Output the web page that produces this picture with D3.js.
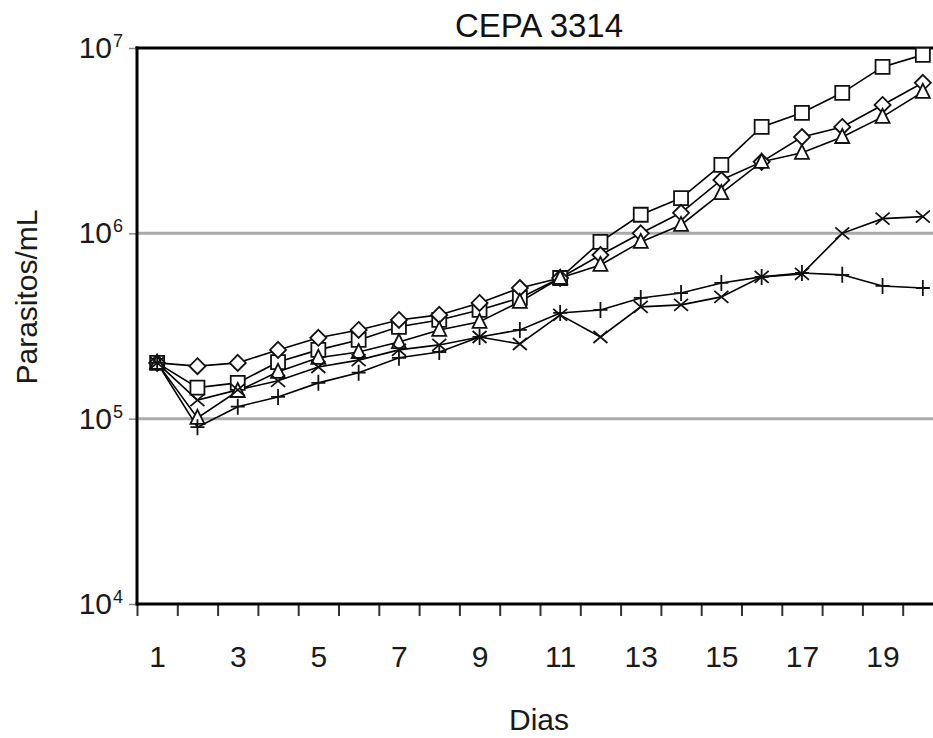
<!DOCTYPE html>
<html>
<head>
<meta charset="utf-8">
<script src="https://cdn.jsdelivr.net/npm/d3@7/dist/d3.min.js"></script>
<style>
  html, body { margin: 0; padding: 0; background: #fff; }
  svg { display: block; font-family: "Liberation Sans", Arial, sans-serif; }
</style>
</head>
<body>
<svg id="chart" width="933" height="738"></svg>
<script>
// Days of culture
const days = [1, 2, 3, 4, 5, 6, 7, 8, 9, 10, 11, 12, 13, 14, 15, 16, 17, 18, 19, 20];
const dayLabels = [1, 3, 5, 7, 9, 11, 13, 15, 17, 19];
const decades = [1e4, 1e5, 1e6, 1e7];
const decadeExponents = ["4", "5", "6", "7"];

// Parasite counts per mL, one array per condition
const seriesSquare   = [2.0e5, 1.47e5, 1.56e5, 2.02e5, 2.35e5, 2.66e5, 3.13e5, 3.41e5, 3.86e5, 4.48e5, 5.74e5, 8.99e5, 1.26e6, 1.55e6, 2.34e6, 3.75e6, 4.47e6, 5.73e6, 7.91e6, 9.18e6];
const seriesDiamond  = [2.0e5, 1.92e5, 2.0e5, 2.35e5, 2.73e5, 3.01e5, 3.41e5, 3.63e5, 4.21e5, 5.07e5, 5.74e5, 7.64e5, 1.0e6, 1.29e6, 1.94e6, 2.43e6, 3.31e6, 3.75e6, 4.93e6, 6.49e6];
const seriesTriangle = [2.0e5, 1.01e5, 1.41e5, 1.79e5, 2.13e5, 2.29e5, 2.59e5, 3.01e5, 3.33e5, 4.27e5, 5.74e5, 6.75e5, 8.99e5, 1.11e6, 1.65e6, 2.43e6, 2.72e6, 3.31e6, 4.25e6, 5.80e6];
const seriesCross    = [2.0e5, 1.26e5, 1.43e5, 1.60e5, 1.90e5, 2.07e5, 2.35e5, 2.50e5, 2.76e5, 2.53e5, 3.63e5, 2.76e5, 4.01e5, 4.11e5, 4.54e5, 5.82e5, 6.04e5, 1.0e6, 1.20e6, 1.23e6];
const seriesPlus     = [2.0e5, 9.0e4, 1.16e5, 1.31e5, 1.56e5, 1.77e5, 2.13e5, 2.29e5, 2.76e5, 3.01e5, 3.72e5, 3.86e5, 4.48e5, 4.76e5, 5.40e5, 5.82e5, 6.11e5, 5.97e5, 5.20e5, 5.07e5];

// Marker outlines, centred on the point
const markerPaths = {
  square:   "M-7,-7H7V7H-7Z",
  diamond:  "M0,-8L8,0L0,8L-8,0Z",
  triangle: "M0,-8L7,6H-7Z",
  cross:    "M-7,-6L7,6M-7,6L7,-6",
  plus:     "M-7,0H7M0,-8V8"
};

const series = [
  { name: "square",   values: seriesSquare,   fill: "#fff" },
  { name: "diamond",  values: seriesDiamond,  fill: "#fff" },
  { name: "triangle", values: seriesTriangle, fill: "#fff" },
  { name: "cross",    values: seriesCross,    fill: "none" },
  { name: "plus",     values: seriesPlus,     fill: "none" }
];

const svg = d3.select("#chart");
const plotLeft = 137, plotRight = 943, plotTop = 48, plotBottom = 604;

const x = d3.scaleLinear().domain([0.5, 20.5]).range([plotLeft, plotRight]);
const y = d3.scaleLog().domain([1e4, 1e7]).range([plotBottom, plotTop]);

// Horizontal gridlines at 10^5 and 10^6
svg.append("g")
  .selectAll("line")
  .data([1e5, 1e6])
  .join("line")
  .attr("x1", plotLeft).attr("x2", 933)
  .attr("y1", d => y(d)).attr("y2", d => y(d))
  .attr("stroke", "#aaa")
  .attr("stroke-width", 3);

// Top border of the plot area
svg.append("line")
  .attr("x1", plotLeft - 1.5).attr("x2", 933)
  .attr("y1", plotTop).attr("y2", plotTop)
  .attr("stroke", "#000").attr("stroke-width", 3);

// X axis: tick marks between days, labels on odd days
const xTicks = d3.axisBottom(x)
  .tickValues(days.map(d => d - 0.5).concat([days[days.length - 1] + 0.5]))
  .tickSize(12)
  .tickFormat("");
const gx = svg.append("g").attr("transform", `translate(0,${plotBottom})`).call(xTicks);
gx.select(".domain").remove();
gx.selectAll(".tick line").attr("stroke", "#333").attr("stroke-width", 2);

const xLabels = d3.axisBottom(x).tickValues(dayLabels).tickSize(0).tickFormat(d3.format("d"));
const gxl = svg.append("g").attr("transform", `translate(0,${plotBottom})`).call(xLabels);
gxl.select(".domain").remove();
gxl.selectAll(".tick text")
  .attr("y", 63).attr("dy", 0)
  .attr("font-family", "Liberation Sans, Arial, sans-serif")
  .attr("font-size", 30)
  .attr("fill", "#1a1a1a");

svg.append("line")
  .attr("x1", plotLeft - 1.5).attr("x2", 933)
  .attr("y1", plotBottom).attr("y2", plotBottom)
  .attr("stroke", "#000").attr("stroke-width", 3);

// Y axis: decade ticks with power-of-ten labels
const yAxis = d3.axisLeft(y).tickValues(decades).tickSize(8).tickFormat("");
const gy = svg.append("g").attr("transform", `translate(${plotLeft},0)`).call(yAxis);
gy.select(".domain").remove();
gy.selectAll(".tick line").attr("stroke", "#888").attr("stroke-width", 1.5);

svg.append("line")
  .attr("x1", plotLeft).attr("x2", plotLeft)
  .attr("y1", plotTop - 1.5).attr("y2", plotBottom + 1.5)
  .attr("stroke", "#000").attr("stroke-width", 3);

const yLab = svg.append("g")
  .selectAll("g")
  .data(decades)
  .join("g")
  .attr("transform", d => `translate(0,${y(d)})`);
yLab.append("text")
  .attr("x", 112).attr("y", 10)
  .attr("text-anchor", "end")
  .attr("font-size", 30)
  .attr("fill", "#1a1a1a")
  .text("10");
yLab.append("text")
  .attr("x", 113).attr("y", -1)
  .attr("font-size", 18)
  .attr("fill", "#1a1a1a")
  .text((d, i) => decadeExponents[i]);

// Series lines
const line = d3.line()
  .x((v, i) => x(days[i]))
  .y(v => y(v));

svg.append("g")
  .selectAll("path")
  .data(series)
  .join("path")
  .attr("d", s => line(s.values))
  .attr("fill", "none")
  .attr("stroke", "#000")
  .attr("stroke-width", 1.6);

// Series markers
series.forEach(s => {
  svg.append("g")
    .selectAll("path")
    .data(s.values)
    .join("path")
    .attr("transform", (v, i) => `translate(${x(days[i])},${y(v)})`)
    .attr("d", markerPaths[s.name])
    .attr("fill", s.fill)
    .attr("stroke", "#111")
    .attr("stroke-width", 1.8);
});

// Titles
svg.append("text")
  .attr("x", 539).attr("y", 37)
  .attr("text-anchor", "middle")
  .attr("font-size", 33)
  .attr("fill", "#111")
  .text("CEPA 3314");

svg.append("text")
  .attr("x", 539).attr("y", 730)
  .attr("text-anchor", "middle")
  .attr("font-size", 30)
  .attr("fill", "#1a1a1a")
  .text("Dias");

svg.append("text")
  .attr("transform", "translate(37,297) rotate(-90)")
  .attr("text-anchor", "middle")
  .attr("font-size", 30)
  .attr("fill", "#1a1a1a")
  .text("Parasitos/mL");
</script>
</body>
</html>
